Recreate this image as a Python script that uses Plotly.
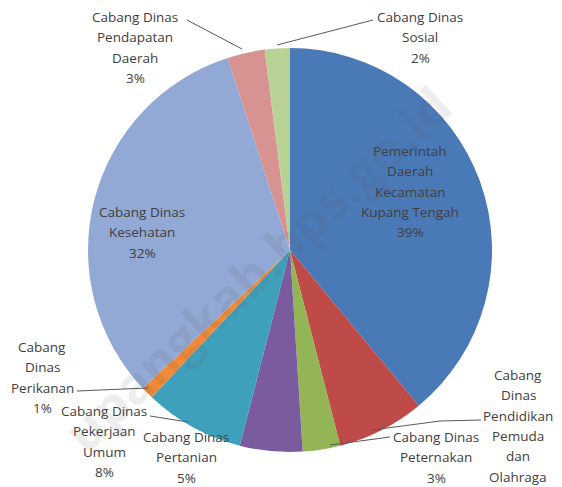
import plotly.graph_objects as go

# the page body has an 8px margin, so the figure is drawn 8px smaller
# and everything is placed in reference pixels shifted by that margin
OFF = 8
W, H = 562 - OFF, 487 - OFF

labels = [
    "Pemerintah Daerah Kecamatan Kupang Tengah",
    "Cabang Dinas Pendidikan Pemuda dan Olahraga",
    "Cabang Dinas Peternakan",
    "Cabang Dinas Pertanian",
    "Cabang Dinas Pekerjaan Umum",
    "Cabang Dinas Perikanan",
    "Cabang Dinas Kesehatan",
    "Cabang Dinas Pendapatan Daerah",
    "Cabang Dinas Sosial",
]
values = [39, 7, 3, 5, 8, 1, 32, 3, 2]
colors = ["#4A79B7", "#BE4B48", "#93B555", "#7A5C9E", "#3FA0BB",
          "#F08A36", "#92A9D5", "#D69391", "#B8D296"]

# label lines as drawn in the picture (the 7% of Pendidikan falls off the image)
label_lines = [
    ["Pemerintah", "Daerah", "Kecamatan", "Kupang Tengah", "39%"],
    ["Cabang", "Dinas", "Pendidikan", "Pemuda", "dan", "Olahraga"],
    ["Cabang Dinas", "Peternakan", "3%"],
    ["Cabang Dinas", "Pertanian", "5%"],
    ["Cabang Dinas", "Pekerjaan", "Umum", "8%"],
    ["Cabang", "Dinas", "Perikanan", "1%"],
    ["Cabang Dinas", "Kesehatan", "32%"],
    ["Cabang Dinas", "Pendapatan", "Daerah", "3%"],
    ["Cabang Dinas", "Sosial", "2%"],
]
# centre x and first line centre y of each label block
label_pos = [
    (410, 151), (518, 375), (436, 437), (186, 437), (104, 411),
    (42, 347), (142, 212), (135, 17), (420, 17),
]
LINE = 20.3

leaders = [
    None, [(481, 420), (440, 421), (372, 430)], [(390, 437), (330, 445)], None,
    [(150, 416), (188, 422)], [(77, 391), (148, 388)], None,
    [(187, 20), (242, 49)], [(373, 20), (277, 45)],
]


def px(x, y):
    return (x - OFF) / W, 1 - (y - OFF) / H


fig = go.Figure(
    go.Pie(
        labels=labels,
        values=values,
        sort=False,
        direction="clockwise",
        rotation=0,
        textinfo="none",
        hoverinfo="label+percent",
        marker=dict(colors=colors, line=dict(width=0)),
        domain=dict(
            x=[(88 - OFF) / W, (492 - OFF) / W],
            y=[1 - (452 - OFF) / H, 1 - (48 - OFF) / H],
        ),
        showlegend=False,
    )
)

for lines, (x, y) in zip(label_lines, label_pos):
    for i, line in enumerate(lines):
        ax, ay = px(x, y + i * LINE)
        fig.add_annotation(
            x=ax, y=ay, xref="paper", yref="paper", text=line, showarrow=False,
            xanchor="center", yanchor="middle",
            font=dict(family="Open Sans", size=13.5, color="#404040"),
        )

for seg in leaders:
    if seg is None:
        continue
    path = "M " + " L ".join(f"{px(x, y)[0]},{px(x, y)[1]}" for x, y in seg)
    fig.add_shape(type="path", path=path, xref="paper", yref="paper",
                  line=dict(color="#595959", width=1))

# watermark (only the part visible in the picture)
wx, wy = px(256, 268)
fig.add_annotation(
    x=wx, y=wy, xref="paper", yref="paper",
    text="<b>upangkab.bps.go.id</b>", showarrow=False, textangle=-43,
    font=dict(family="Open Sans", size=52, color="rgba(90,90,90,0.11)"),
)

fig.update_layout(
    width=W, height=H,
    margin=dict(l=0, r=0, t=0, b=0),
    paper_bgcolor="white",
    plot_bgcolor="white",
)

fig.write_html("out.html")
